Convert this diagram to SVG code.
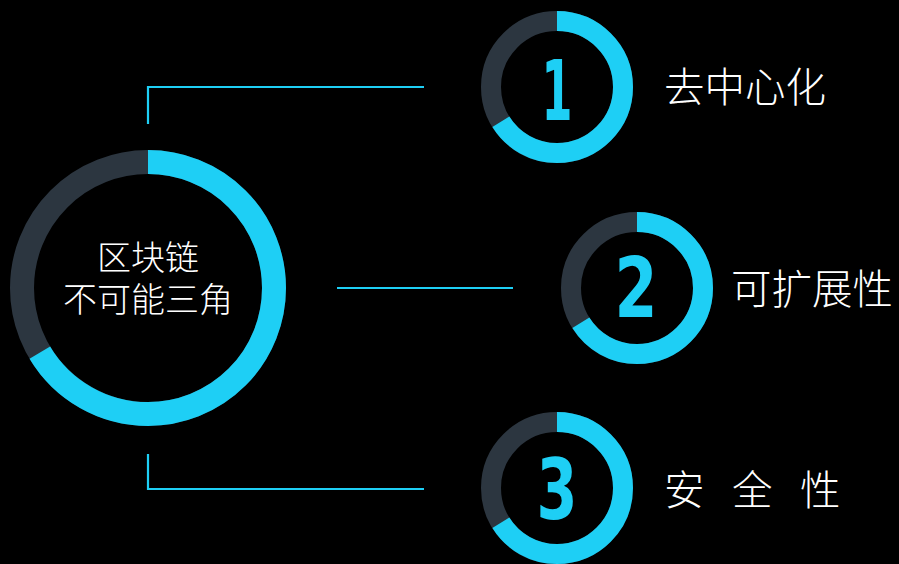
<svg xmlns="http://www.w3.org/2000/svg" width="899" height="564" viewBox="0 0 899 564">
<style>
.track{fill:none;stroke:#2c3640}
.prog{fill:none;stroke:#1ecff5}
.big{stroke-width:24}
.small{stroke-width:20}
.conn{fill:none;stroke:#1ecff5;stroke-width:2.2}
.num{font-family:"DejaVu Sans Condensed","Liberation Sans",sans-serif;font-weight:bold;font-size:84px;fill:#1ecff5;text-anchor:middle}
.lbl{font-family:"Noto Sans CJK SC",sans-serif;font-weight:300;font-size:40.5px;fill:#ffffff}
.ctr{font-family:"Noto Sans CJK SC",sans-serif;font-weight:300;font-size:34px;fill:#ffffff;text-anchor:middle}
</style>
<rect width="899" height="564" fill="#000000"/>
<g id="connectors">
<polyline class="conn" points="148,124 148,87 424,87"/>
<line class="conn" x1="337" y1="288" x2="513" y2="288"/>
<polyline class="conn" points="148,454 148,489 424,489"/>
</g>
<g id="center">
<circle class="track big" cx="148" cy="288" r="126"/>
<circle class="prog big" cx="148" cy="288" r="126" stroke-dasharray="525.7 1000" transform="rotate(-90 148 288)"/>
<text class="ctr"><tspan x="148" y="270">区块链</tspan><tspan x="148" y="312">不可能三角</tspan></text>
</g>
<g id="item1">
<circle class="track small" cx="557" cy="87" r="66"/>
<circle class="prog small" cx="557" cy="87" r="66" stroke-dasharray="274 1000" transform="rotate(-90 557 87)"/>
<text class="num" x="557" y="120" textLength="31" lengthAdjust="spacingAndGlyphs">1</text>
<text class="lbl" x="664" y="102">去中心化</text>
</g>
<g id="item2">
<circle class="track small" cx="637" cy="288" r="66"/>
<circle class="prog small" cx="637" cy="288" r="66" stroke-dasharray="274 1000" transform="rotate(-90 637 288)"/>
<text class="num" x="636" y="317" textLength="43" lengthAdjust="spacingAndGlyphs">2</text>
<text class="lbl" x="731" y="304">可扩展性</text>
</g>
<g id="item3">
<circle class="track small" cx="557" cy="488" r="66"/>
<circle class="prog small" cx="557" cy="488" r="66" stroke-dasharray="274 1000" transform="rotate(-90 557 488)"/>
<text class="num" x="557" y="519" textLength="41" lengthAdjust="spacingAndGlyphs">3</text>
<text class="lbl" x="664 704 732 772 800" y="505">安 全 性</text>
</g>
</svg>
